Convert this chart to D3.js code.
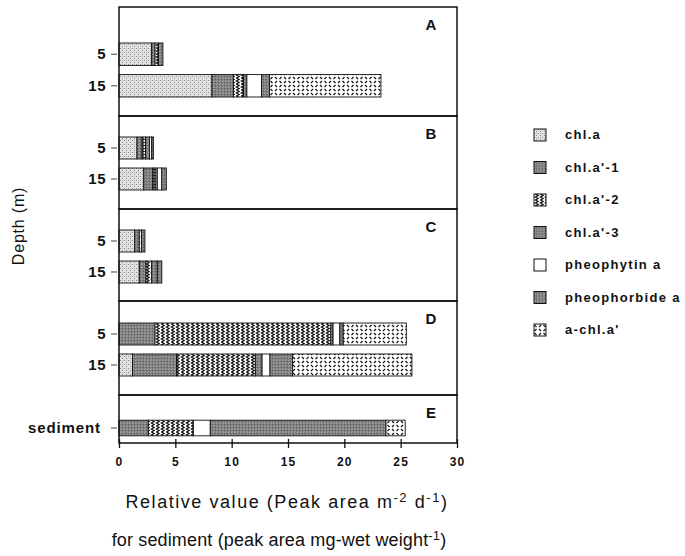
<!DOCTYPE html>
<html lang="en">
<head>
  <title>Pigment composition</title>
  <script src="https://cdn.jsdelivr.net/npm/d3@7/dist/d3.min.js"></script>
  <style>
    body { margin: 0; background: #fff; }
    text { font-family: "Liberation Sans", Arial, sans-serif; fill: #111; }
  </style>
</head>
<body>
  <script>
    // data
    const components = ["chl.a", "chl.a'-1", "chl.a'-2", "chl.a'-3", "pheophytin a", "pheophorbide a", "a-chl.a'"];
    const panels = ["A", "B", "C", "D", "E"];
    const rowPanel = ["A", "A", "B", "B", "C", "C", "D", "D", "E"];
    const rowLabel = ["5", "15", "5", "15", "5", "15", "5", "15", "sediment"];
    const chlA = [2.9, 8.25, 1.6, 2.2, 1.4, 1.8, 0, 1.2, 0];
    const chlA1 = [0.3, 1.9, 0.45, 0.8, 0.4, 0.6, 3.2, 3.9, 2.6];
    const chlA2 = [0.3, 0.9, 0.3, 0.2, 0.2, 0.5, 15.6, 7.0, 4.0];
    const chlA3 = [0.4, 0.3, 0.35, 0.2, 0.3, 0.5, 0.2, 0.6, 0];
    const pheophytin = [0, 1.3, 0.2, 0.4, 0, 0, 0.6, 0.7, 1.5];
    const pheophorbide = [0, 0.7, 0.15, 0.4, 0, 0.4, 0.3, 2.0, 15.6];
    const aChlA = [0, 9.9, 0, 0, 0, 0, 5.6, 10.6, 1.7];
    const xTicks = [0, 5, 10, 15, 20, 25, 30];

    const series = [chlA, chlA1, chlA2, chlA3, pheophytin, pheophorbide, aChlA];
    let rows = rowLabel.map((lab, i) => {
      let r = { panel: rowPanel[i], label: lab };
      components.forEach((c, k) => r[c] = series[k][i]);
      return r;
    });

    let width = 685, height = 556;
    let svg = d3.select("body").append("svg")
      .attr("width", width).attr("height", height);

    // patterns for the fills
    let defs = svg.append("defs");
    let p;
    p = defs.append("pattern").attr("id", "pLight").attr("patternUnits", "userSpaceOnUse")
      .attr("width", 4).attr("height", 4);
    p.append("rect").attr("width", 4).attr("height", 4).attr("fill", "#e2e2e2");
    p.append("rect").attr("x", 0).attr("y", 0).attr("width", 1).attr("height", 1).attr("fill", "#888");
    p.append("rect").attr("x", 2).attr("y", 2).attr("width", 1).attr("height", 1).attr("fill", "#888");
    p.append("rect").attr("x", 2).attr("y", 0).attr("width", 1).attr("height", 1).attr("fill", "#bbb");

    p = defs.append("pattern").attr("id", "pDark").attr("patternUnits", "userSpaceOnUse")
      .attr("width", 3).attr("height", 3);
    p.append("rect").attr("width", 3).attr("height", 3).attr("fill", "#808080");
    p.append("rect").attr("x", 0).attr("y", 0).attr("width", 1).attr("height", 1).attr("fill", "#a8a8a8");
    p.append("rect").attr("x", 2).attr("y", 1).attr("width", 1).attr("height", 1).attr("fill", "#5a5a5a");
    p.append("rect").attr("x", 1).attr("y", 2).attr("width", 1).attr("height", 1).attr("fill", "#9a9a9a");

    p = defs.append("pattern").attr("id", "pZig").attr("patternUnits", "userSpaceOnUse")
      .attr("width", 5).attr("height", 6);
    p.append("rect").attr("width", 5).attr("height", 6).attr("fill", "#fff");
    p.append("path").attr("d", "M1.3,0 L4.2,1.5 L1.3,3 L4.2,4.5 L1.3,6")
      .attr("fill", "none").attr("stroke", "#111").attr("stroke-width", 1.3);

    p = defs.append("pattern").attr("id", "pDash").attr("patternUnits", "userSpaceOnUse")
      .attr("width", 9).attr("height", 8);
    p.append("rect").attr("width", 9).attr("height", 8).attr("fill", "#fff");
    p.append("path").attr("d", "M0.5,1 L2.5,3 M5,3 L7,1 M5,5 L7,7 M0.5,7 L2.5,5")
      .attr("fill", "none").attr("stroke", "#111").attr("stroke-width", 1.2);

    let fillScale = d3.scaleOrdinal()
      .domain(components)
      .range(["url(#pLight)", "url(#pDark)", "url(#pZig)", "url(#pDark)", "#fff", "url(#pDark)", "url(#pDash)"]);

    let x = d3.scaleLinear().domain([0, 30]).range([119, 457]);

    // panel layout: top edge and the band range inside each panel
    let panelTop = { A: 7, B: 116, C: 209, D: 301, E: 395 };
    let panelBottom = { A: 116, B: 209, C: 301, D: 395, E: 443 };
    let bandRange = { A: [36, 90], B: [21, 74], C: [21, 74], D: [22, 75], E: [22, 44] };

    let yScales = {};
    panels.forEach(pn => {
      let labs = rows.filter(r => r.panel === pn).map(r => r.label);
      yScales[pn] = d3.scaleBand().domain(labs)
        .range(bandRange[pn].map(v => v + panelTop[pn]))
        .paddingInner(0.29).paddingOuter(0);
    });

    let stack = d3.stack().keys(components);
    let stacked = stack(rows);

    // bars
    let barG = svg.append("g");
    stacked.forEach(layer => {
      barG.selectAll(null).data(layer.filter(d => d[1] - d[0] > 0)).join("rect")
        .attr("x", d => x(d[0]))
        .attr("width", d => x(d[1]) - x(d[0]))
        .attr("y", d => yScales[d.data.panel](d.data.label))
        .attr("height", d => yScales[d.data.panel].bandwidth())
        .attr("fill", fillScale(layer.key))
        .attr("stroke", "#111")
        .attr("stroke-width", 0.9);
    });

    // panel frames
    let frameG = svg.append("g");
    panels.forEach(pn => {
      frameG.append("rect")
        .attr("x", x(0)).attr("y", panelTop[pn])
        .attr("width", x(30) - x(0)).attr("height", panelBottom[pn] - panelTop[pn])
        .attr("fill", "none").attr("stroke", "#111").attr("stroke-width", 1.5);
      frameG.append("text").text(pn)
        .attr("x", 431).attr("y", panelTop[pn] + 23)
        .attr("text-anchor", "middle")
        .attr("font-size", 15).attr("font-weight", "bold");
      // y axis for the panel
      let yAxis = d3.axisLeft(yScales[pn]).tickSize(8).tickPadding(5);
      let g = svg.append("g").attr("transform", `translate(${x(0)},0)`).call(yAxis);
      g.select(".domain").remove();
      g.selectAll("text").attr("font-size", 15).attr("font-weight", "bold")
        .attr("font-family", "Liberation Sans, Arial, sans-serif")
        .attr("fill", "#111")
        .attr("letter-spacing", d => d === "sediment" ? 0.9 : 0.5)
        .attr("dx", d => d === "sediment" ? -5 : 0);
      g.selectAll("line").attr("stroke", "#444").attr("x2", -8).attr("x1", -2);
    });

    // x axis
    let xAxis = d3.axisBottom(x).tickValues(xTicks).tickSize(5).tickPadding(9);
    let xg = svg.append("g").attr("transform", `translate(0,${panelBottom.E})`).call(xAxis);
    xg.select(".domain").remove();
    xg.selectAll("line").attr("stroke", "#111").attr("stroke-width", 1.3).attr("y1", -4);
    xg.selectAll("text").attr("font-size", 12).attr("font-weight", "bold")
      .attr("font-family", "Liberation Sans, Arial, sans-serif").attr("fill", "#111")
      .attr("letter-spacing", 1.2);

    // axis titles
    let t1 = svg.append("text").attr("x", 287).attr("y", 508)
      .attr("text-anchor", "middle").attr("font-size", 18).attr("letter-spacing", 1.55);
    t1.append("tspan").text("Relative value (Peak area m");
    t1.append("tspan").text("-2").attr("font-size", 13).attr("dy", -6);
    t1.append("tspan").text(" d").attr("dy", 6);
    t1.append("tspan").text("-1").attr("font-size", 13).attr("dy", -6);
    t1.append("tspan").text(")").attr("dy", 6);

    let t2 = svg.append("text").attr("x", 279).attr("y", 546)
      .attr("text-anchor", "middle").attr("font-size", 18).attr("letter-spacing", 0.15);
    t2.append("tspan").text("for sediment (peak area mg-wet weight");
    t2.append("tspan").text("-1").attr("font-size", 13).attr("dy", -6);
    t2.append("tspan").text(")").attr("dy", 6);

    svg.append("text").text("Depth (m)")
      .attr("transform", "translate(24,226) rotate(-90)")
      .attr("text-anchor", "middle").attr("font-size", 16).attr("letter-spacing", 0.8);

    // legend
    let legend = svg.append("g").attr("transform", "translate(534,129)")
      .selectAll("g").data(components).join("g")
      .attr("transform", (d, i) => `translate(0,${i * 32.5})`);
    legend.append("rect").attr("width", 12).attr("height", 12)
      .attr("fill", d => fillScale(d)).attr("stroke", "#111").attr("stroke-width", 1);
    legend.append("text").text(d => d)
      .attr("x", 31).attr("y", 10)
      .attr("font-size", 13).attr("font-weight", "bold").attr("letter-spacing", 1.3);
  </script>
</body>
</html>
